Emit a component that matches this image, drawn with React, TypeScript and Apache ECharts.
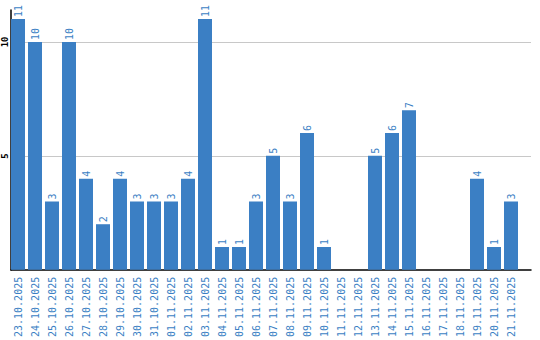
import React, { useEffect, useRef } from "react";
import * as echarts from "echarts";

const categories = [
  "23.10.2025", "24.10.2025", "25.10.2025", "26.10.2025", "27.10.2025",
  "28.10.2025", "29.10.2025", "30.10.2025", "31.10.2025", "01.11.2025",
  "02.11.2025", "03.11.2025", "04.11.2025", "05.11.2025", "06.11.2025",
  "07.11.2025", "08.11.2025", "09.11.2025", "10.11.2025", "11.11.2025",
  "12.11.2025", "13.11.2025", "14.11.2025", "15.11.2025", "16.11.2025",
  "17.11.2025", "18.11.2025", "19.11.2025", "20.11.2025", "21.11.2025",
];
const values = [
  11, 10, 3, 10, 4, 2, 4, 3, 3, 3, 4, 11, 1, 1, 3,
  5, 3, 6, 1, 0, 0, 5, 6, 7, 0, 0, 0, 4, 1, 3,
];
const yMax = 11.4;
const yInterval = 5;

const BLUE = "#3b7fc4";
const MONO = "DejaVu Sans Mono";

export default function App() {
  const ref = useRef<HTMLDivElement>(null);
  useEffect(() => {
    document.body.style.margin = "0";
    if (!ref.current) return;
    const chart = echarts.init(ref.current, null, { renderer: "svg" });
    chart.setOption({
      animation: false,
      grid: [
        { left: 9.5, width: 510, top: 10, height: 260 },
        { left: 10, width: 521, top: 10, height: 260 },
      ],
      xAxis: [
        {
          type: "category",
          gridIndex: 0,
          data: categories,
          boundaryGap: true,
          axisLine: { show: false },
          axisTick: { show: false },
          axisLabel: {
            rotate: 90,
            interval: 0,
            margin: 7,
            color: BLUE,
            fontFamily: MONO,
            fontSize: 10,
          },
        },
        {
          type: "value",
          gridIndex: 1,
          min: 0,
          max: 1,
          axisLine: { show: true, lineStyle: { color: "#000", width: 1.5 } },
          axisTick: { show: false },
          axisLabel: { show: false },
          splitLine: { show: false },
        },
      ],
      yAxis: [
        {
          type: "value",
          gridIndex: 0,
          min: 0,
          max: yMax,
          show: false,
          splitLine: { show: false },
        },
        {
          type: "value",
          gridIndex: 1,
          min: 0,
          max: yMax,
          interval: yInterval,
          axisLine: { show: true, lineStyle: { color: "#000", width: 1.5 } },
          axisTick: { show: false },
          axisLabel: {
            rotate: 90,
            margin: 2,
            color: "#000",
            fontFamily: MONO,
            fontSize: 9,
            fontWeight: "bold",
            showMinLabel: false,
            showMaxLabel: false,
          },
          splitLine: {
            show: true,
            showMinLine: false,
            showMaxLine: false,
            lineStyle: { color: "#c8c8c8", width: 1 },
          },
        },
      ],
      series: [
        {
          type: "bar",
          xAxisIndex: 0,
          yAxisIndex: 0,
          data: values,
          barWidth: 14,
          itemStyle: { color: BLUE },
          label: {
            show: true,
            position: "top",
            rotate: 90,
            align: "left",
            verticalAlign: "middle",
            distance: 2,
            color: BLUE,
            fontFamily: MONO,
            fontSize: 10,
            formatter: (p: any) => (p.value ? String(p.value) : ""),
          },
        },
      ],
    });
    return () => chart.dispose();
  }, []);
  return <div ref={ref} style={{ width: 540, height: 340 }} />;
}
